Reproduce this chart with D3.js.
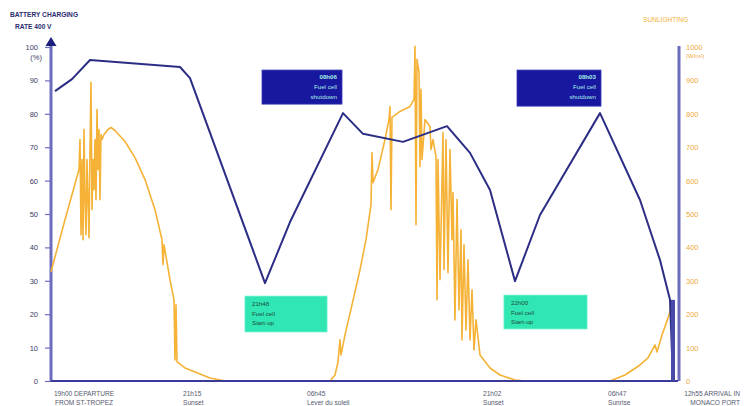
<!DOCTYPE html>
<html><head><meta charset="utf-8">
<script src="https://cdn.jsdelivr.net/npm/d3@7"></script>
<style>body{margin:0;background:#fff}svg{display:block}text{font-family:"Liberation Sans",Arial,sans-serif}</style>
</head><body><svg id="c" width="753" height="406"></svg>
<script>
// ---- DATA ----
// time index along the trip (0 = departure, 625 = arrival), battery charge in %
const battery = [[4,86.8],[21,90.4],[39,96.1],[129,94.0],[139,90.7],[214,29.3],[239,47.6],[292,80.2],[312,74.0],[352,71.6],[396,76.3],[419,68.3],[439,57.2],[464,29.9],[489,49.7],[549,80.2],[589,54.2],[609,36.2],[619,24.3],[622,0]];
// sunlighting in W/m²
const sunlight = [[0,327],[14,483],[28,633],[29,723],[30,438],[31,663],[32,423],[33,753],[34,543],[35,438],[36,663],[37,543],[38,429],[39,693],[40,894],[41,513],[42,663],[43,573],[44,723],[45,543],[46,813],[47,633],[48,753],[49,543],[50,738],[51,723],[53,738],[57,753],[60,759],[64,750],[74,717],[84,669],[94,603],[104,513],[111,423],[112,348],[113,408],[119,303],[123,243],[124,63],[125,228],[126,57],[134,39],[144,27],[159,9],[174,0],[279,0],[284,18],[287,57],[289,123],[290,78],[294,138],[301,228],[309,333],[315,423],[320,528],[321,684],[322,594],[327,633],[334,723],[338,783],[339,822],[340,513],[341,789],[349,807],[359,822],[363,843],[364,1002],[365,468],[366,963],[368,924],[369,642],[370,873],[371,663],[374,783],[379,762],[380,693],[382,723],[385,672],[386,243],[387,663],[389,303],[392,744],[393,333],[395,723],[397,324],[399,693],[401,423],[402,564],[404,183],[406,543],[408,213],[410,453],[411,123],[413,408],[415,153],[417,363],[419,123],[421,273],[423,93],[425,183],[429,78],[439,39],[449,18],[464,3],[474,0],[559,0],[574,18],[589,48],[597,69],[604,108],[606,87],[611,138],[617,189],[622,237]];
const leftTicks = [0,10,20,30,40,50,60,70,80,90,100];
const rightTicks = [0,100,200,300,400,500,600,700,800,900,1000];
const xTickT = [0,132,256,432,557,625];
const xTickLabels = [["19h00 DEPARTURE","FROM ST-TROPEZ"],["21h15","Sunset"],["06h45","Lever du soleil"],["21h02","Sunset"],["06h47","Sunrise"],["12h55 ARRIVAL IN","MONACO PORT"]];
const leftTitle = ["BATTERY CHARGING","RATE 400 V"];
const rightTitle = "SUNLIGHTING";
const shutdownNotes = [["08h06","Fuel cell","shutdown"],["08h03","Fuel cell","shutdown"]];
const startupNotes = [["21h48","Fuel cell","Start-up"],["22h00","Fuel cell","Start-up"]];

// ---- LAYOUT ----
const svg = d3.select("#c");
const x = d3.scaleLinear().domain([0,625]).range([51,676]);
const yL = d3.scaleLinear().domain([0,100]).range([381,47]);
const yR = d3.scaleLinear().domain([0,1000]).range([381,47]);
const navy = "#2c2d84", axisCol = "#6d6dbd", orange = "#f5b236";

// titles
svg.append("text").attr("x",10).attr("y",17).attr("font-size",6.6).attr("font-weight","bold").attr("fill","#2b2b6e").text(leftTitle[0]);
svg.append("text").attr("x",15).attr("y",29).attr("font-size",6.6).attr("font-weight","bold").attr("fill","#2b2b6e").text(leftTitle[1]);
svg.append("text").attr("x",643).attr("y",22).attr("font-size",6.6).attr("fill",orange).text(rightTitle);

// left axis
const gL = svg.append("g").attr("transform","translate(51,0)")
  .call(d3.axisLeft(yL).tickValues(leftTicks).tickSize(6).tickPadding(7).tickFormat(d=>d));
gL.select(".domain").remove();
gL.selectAll(".tick line").attr("stroke",axisCol).attr("stroke-width",1.2);
gL.selectAll(".tick text").attr("font-size",7.5).attr("fill","#3c3c66").attr("font-family","Liberation Sans, Arial, sans-serif");
gL.selectAll(".tick").filter(d=>d===100).select("text").attr("dy","0.32em")
  .append("tspan").attr("x",-9).attr("dy","1.35em").text("(%)");
svg.append("line").attr("x1",51).attr("x2",51).attr("y1",381).attr("y2",44).attr("stroke",axisCol).attr("stroke-width",3);
svg.append("path").attr("d","M51,37 L56.5,46 L45.5,46 Z").attr("fill","#1d1f7d");

// right axis
const gR = svg.append("g").attr("transform","translate(679,0)")
  .call(d3.axisRight(yR).tickValues(rightTicks).tickSize(0).tickPadding(7).tickFormat(d=>d));
gR.select(".domain").remove();
gR.selectAll(".tick text").attr("font-size",7.5).attr("fill","#eeaa40").attr("font-family","Liberation Sans, Arial, sans-serif");
gR.selectAll(".tick").filter(d=>d===1000).select("text")
  .append("tspan").attr("x",7).attr("dy","1.35em").attr("font-size",6).text("(W/m²)");
svg.append("line").attr("x1",679).attr("x2",679).attr("y1",381).attr("y2",46).attr("stroke",axisCol).attr("stroke-width",3);

// sunlight line
svg.append("path").datum(sunlight)
  .attr("d", d3.line().x(d=>x(d[0])).y(d=>yR(d[1])))
  .attr("fill","none").attr("stroke",orange).attr("stroke-width",1.6).attr("stroke-linejoin","round");

// x axis
svg.append("line").attr("x1",x(0)).attr("x2",x(625)+2).attr("y1",381).attr("y2",381).attr("stroke","#3a3b98").attr("stroke-width",2);

// battery line
svg.append("path").datum(battery)
  .attr("d", d3.line().x(d=>x(d[0])).y(d=>yL(d[1])))
  .attr("fill","none").attr("stroke",navy).attr("stroke-width",2).attr("stroke-linejoin","round");
svg.append("line").attr("x1",x(622)).attr("x2",x(622)).attr("y1",yL(24.3)).attr("y2",381).attr("stroke","#4a4aa8").attr("stroke-width",4);

// x tick labels
const xLabelPos = [{dx:33,anchor:"middle"},{dx:0,anchor:"start"},{dx:0,anchor:"start"},{dx:0,anchor:"start"},{dx:0,anchor:"start"},{dx:64,anchor:"end"}];
xTickT.forEach((t,i)=>{
  const tx = svg.append("text").attr("x",x(t)+xLabelPos[i].dx).attr("y",395.5)
    .attr("text-anchor",xLabelPos[i].anchor).attr("font-size",6.6).attr("fill","#555a70");
  tx.append("tspan").text(xTickLabels[i][0]);
  tx.append("tspan").attr("x",x(t)+xLabelPos[i].dx).attr("dy",9).text(xTickLabels[i][1]);
});

// annotation boxes
const shutdownBoxes = [{t0:211,t1:291,p0:93.1,p1:82.9},{t0:466,t1:550,p0:93.1,p1:82.3}];
shutdownBoxes.forEach((b,i)=>{
  svg.append("rect").attr("x",x(b.t0)).attr("y",yL(b.p0)).attr("width",x(b.t1)-x(b.t0)).attr("height",yL(b.p1)-yL(b.p0))
    .attr("fill","#1717a0").attr("stroke","#3a3ab8").attr("stroke-width",0.8);
  shutdownNotes[i].forEach((s,j)=>{
    svg.append("text").attr("x",x(b.t1)-5).attr("y",yL(b.p0)+9+j*10).attr("text-anchor","end")
      .attr("font-size",6.2).attr("font-weight",j===0?"bold":"normal").attr("fill","#a8f0e6").text(s);
  });
});
const startupBoxes = [{t0:194,t1:276,p0:25.4,p1:14.7},{t0:453,t1:536,p0:25.7,p1:15.6}];
startupBoxes.forEach((b,i)=>{
  svg.append("rect").attr("x",x(b.t0)).attr("y",yL(b.p0)).attr("width",x(b.t1)-x(b.t0)).attr("height",yL(b.p1)-yL(b.p0))
    .attr("fill","#30e6b2").attr("stroke","#5af0c8").attr("stroke-width",0.8);
  startupNotes[i].forEach((s,j)=>{
    svg.append("text").attr("x",x(b.t0)+7).attr("y",yL(b.p0)+10+j*9.5)
      .attr("font-size",6.2).attr("fill","#1e4d40").text(s);
  });
});
</script></body></html>
